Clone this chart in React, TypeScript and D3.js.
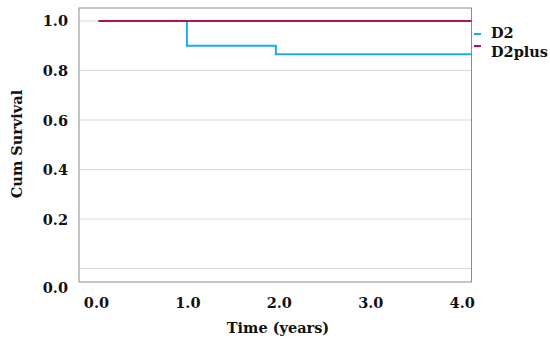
import React from "react";
import * as d3 from "d3";

const d2Times = [0, 0.967, 1.94, 4.08];
const d2Surv = [1, 0.9, 0.866, 0.866];
const d2plusTimes = [0, 4.08];
const d2plusSurv = [1, 1];
const xTicks = [0, 1, 2, 3, 4];
const yTicks = [0, 0.2, 0.4, 0.6, 0.8, 1.0];
const seriesNames = ["D2", "D2plus"];
const colors = ["#19aee8", "#b3134f"];

export default function App() {
  const W = 550, H = 347;
  const left = 79, right = 471.5, top = 8, bottom = 282;
  const x = d3.scaleLinear().domain([-0.213, 4.08]).range([left, right]);
  const y = d3.scaleLinear().domain([-0.0545, 1.0525]).range([bottom, top]);
  const line = d3
    .line<[number, number]>()
    .x((d) => x(d[0]))
    .y((d) => y(d[1]))
    .curve(d3.curveStepAfter);
  const d2 = d2Times.map((t, i) => [t, d2Surv[i]] as [number, number]);
  const d2p = d2plusTimes.map((t, i) => [t, d2plusSurv[i]] as [number, number]);
  const font = "'DejaVu Serif', serif";
  const fs = 14.5;
  return (
    <svg
      width={W}
      height={H}
      style={{ position: "absolute", left: 0, top: 0, background: "#fff" }}
      fontFamily={font}
      fontWeight="bold"
    >
      <rect x={0} y={0} width={W} height={H} fill="#fff" />
      {yTicks.map((v) => (
        <line key={v} x1={left} x2={right} y1={y(v)} y2={y(v)} stroke="#d9d9d9" strokeWidth={1} />
      ))}
      <rect x={left} y={top} width={right - left} height={bottom - top} fill="none" stroke="#8c8c8c" strokeWidth={1} />
      <path d={line(d2) || ""} fill="none" stroke={colors[0]} strokeWidth={2} />
      <path d={line(d2p) || ""} fill="none" stroke={colors[1]} strokeWidth={2} />
      {yTicks.map((v) => (
        <text
          key={v}
          x={68}
          y={v === 0 ? 287 : y(v)}
          textAnchor="end"
          dominantBaseline="central"
          fontSize={fs}
          fill="#111"
        >
          {v.toFixed(1)}
        </text>
      ))}
      {xTicks.map((v) => (
        <text key={v} x={x(v) - 2} y={302} textAnchor="middle" dominantBaseline="central" fontSize={fs} fill="#111">
          {v.toFixed(1)}
        </text>
      ))}
      <text x={278} y={327} textAnchor="middle" dominantBaseline="central" fontSize={fs} fill="#111">
        Time (years)
      </text>
      <text
        transform={`translate(16,144) rotate(-90)`}
        textAnchor="middle"
        dominantBaseline="central"
        fontSize={fs}
        fill="#111"
      >
        Cum Survival
      </text>
      {seriesNames.map((n, i) => (
        <g key={n}>
          <line x1={474} x2={481} y1={34 + i * 12} y2={34 + i * 12} stroke={colors[i]} strokeWidth={2} />
          <text x={491} y={32 + i * 19} dominantBaseline="central" fontSize={fs} fill="#111">
            {n}
          </text>
        </g>
      ))}
    </svg>
  );
}
